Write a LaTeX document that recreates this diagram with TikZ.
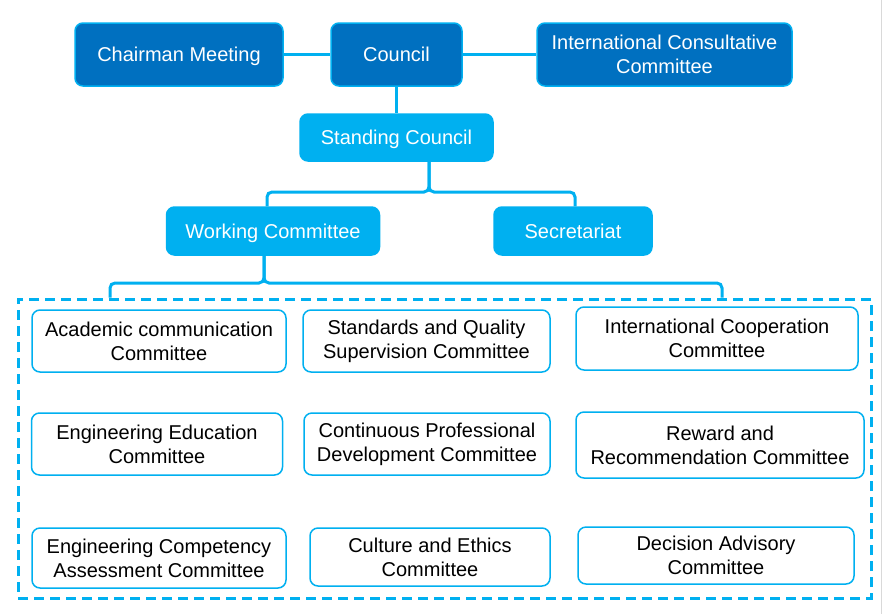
\documentclass[tikz,border=0pt]{standalone}
\usepackage{fontspec}
\setmainfont{Liberation Sans}
\definecolor{dkblue}{HTML}{0070C0}
\definecolor{ltblue}{HTML}{00B0F0}
\tikzset{
  topbox/.style={draw=ltblue, line width=1.5pt, fill=dkblue, rounded corners=8pt, text=white, align=center, inner sep=0pt, font=\fontsize{20}{24}\selectfont},
  midbox/.style={draw=ltblue, line width=1.5pt, fill=ltblue, rounded corners=8pt, text=white, align=center, inner sep=0pt, font=\fontsize{20}{24}\selectfont},
  subbox/.style={draw=ltblue, line width=1.5pt, fill=white, rounded corners=8pt, text=black, align=center, inner sep=0pt, font=\fontsize{20}{24}\selectfont},
  oneline/.style={text depth=0pt},
  conn/.style={draw=ltblue, line width=3pt, rounded corners=5pt},
  grpbox/.style={draw=ltblue, line width=3pt, dash pattern=on 10pt off 6pt, inner sep=0pt}
}
\begin{document}
\begin{tikzpicture}[x=1pt,y=-1pt]
\useasboundingbox (0,0) rectangle (883,614);
\fill[white] (0,0) rectangle (883,614);
\draw[black!15, line width=1.2pt] (881.5,0) -- (881.5,614);

% top row
\node[topbox, oneline, minimum width=208pt, minimum height=63pt] (cm) at (179,54.5) {Chairman Meeting};
\node[topbox, oneline, minimum width=131pt, minimum height=63pt] (co) at (396.5,54.5) {Council};
\node[topbox, minimum width=255pt, minimum height=63pt] (icc) at (664.5,54.5) {International Consultative\\Committee};

\node[midbox, oneline, minimum width=193pt, minimum height=47pt] (sc) at (396.5,137.5) {Standing Council};
\node[midbox, oneline, minimum width=213pt, minimum height=48pt] (wc) at (273,231) {Working Committee};
\node[midbox, oneline, minimum width=158pt, minimum height=48pt] (sec) at (573,231) {Secretariat};

% group box
\node[grpbox, minimum width=853pt, minimum height=299pt] (grp) at (444.5,448.5) {};

% sub committees
\node[subbox, minimum width=254pt, minimum height=62pt] (a1) at (159,341) {Academic communication\\Committee};
\node[subbox, minimum width=247pt, minimum height=62pt] (a2) at (426.5,341) {Standards and Quality\\Supervision Committee};
\node[subbox, minimum width=282pt, minimum height=63pt] (a3) at (717,338.5) {International Cooperation\\Committee};
\node[subbox, minimum width=251pt, minimum height=62pt] (b1) at (157,444) {Engineering Education\\Committee};
\node[subbox, minimum width=246pt, minimum height=62pt] (b2) at (427,444) {Continuous Professional\\Development Committee};
\node[subbox, minimum width=288pt, minimum height=66pt] (b3) at (720,445) {Reward and\\Recommendation Committee};
\node[subbox, minimum width=254pt, minimum height=60pt] (c1) at (159,558) {Engineering Competency\\Assessment Committee};
\node[subbox, minimum width=240pt, minimum height=58pt] (c2) at (430,557) {Culture and Ethics\\Committee};
\node[subbox, minimum width=276pt, minimum height=57pt] (c3) at (716,555.5) {Decision Advisory\\Committee};

% connectors
\draw[conn] (cm.east) -- (co.west);
\draw[conn] (co.east) -- (icc.west);
\draw[conn] (co.south) -- (sc.north);

\coordinate (scb) at ([xshift=32.5pt]sc.south);
\coordinate (j1) at (429,192);
\coordinate (wct) at (267,0 |- wc.north);
\coordinate (sect) at (575,0 |- sec.north);
\draw[conn] (scb) -- (j1) -| (wct);
\draw[conn] (scb) -- (j1) -| (sect);

\coordinate (wcb) at (264,0 |- wc.south);
\coordinate (j2) at (264,283);
\coordinate (gl) at (110,0 |- grp.north);
\coordinate (gr) at (722,0 |- grp.north);
\draw[conn] (wcb) -- (j2) -| (gl);
\draw[conn] (wcb) -- (j2) -| (gr);
\end{tikzpicture}
\end{document}
